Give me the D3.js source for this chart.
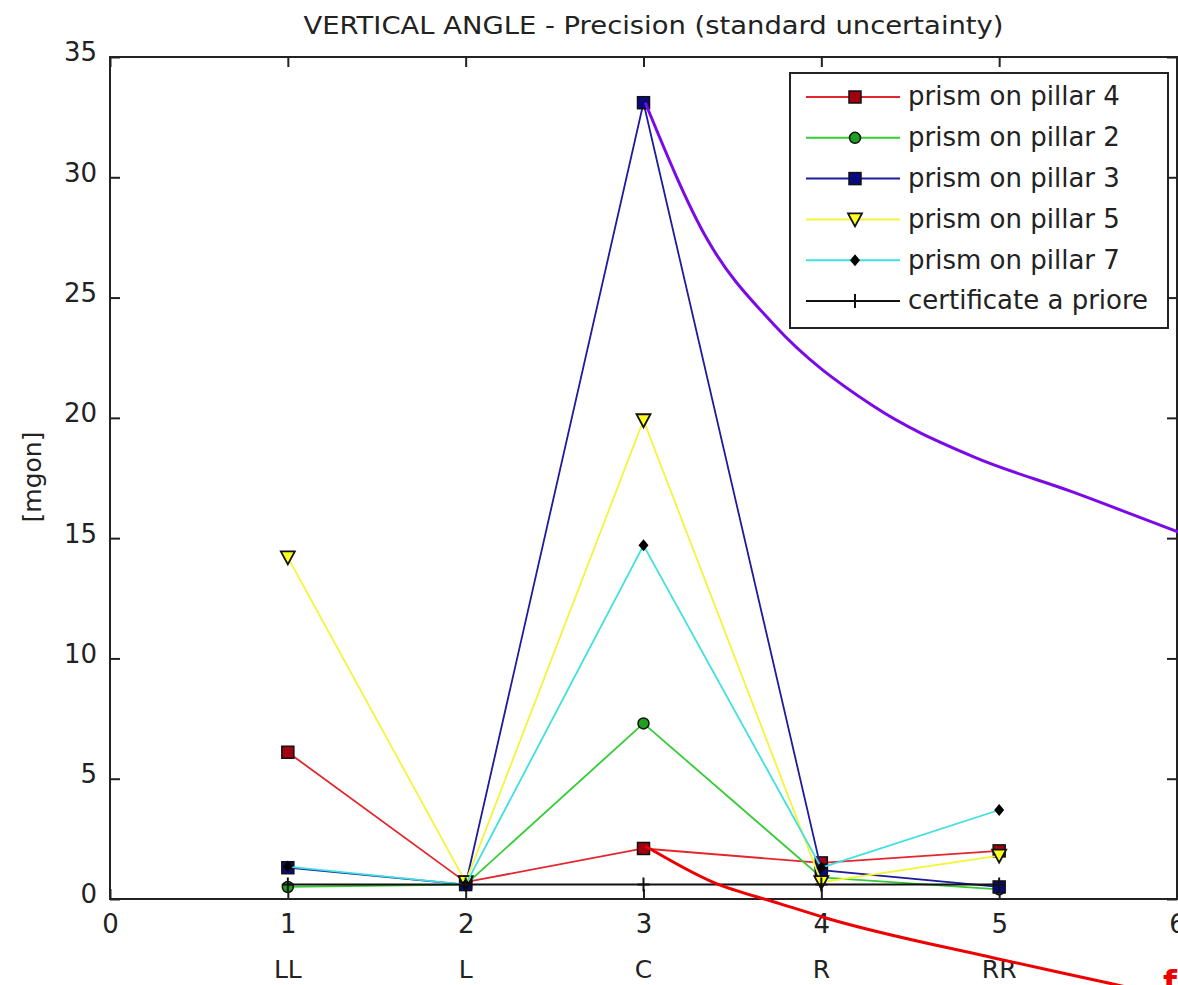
<!DOCTYPE html>
<html>
<head>
<meta charset="utf-8">
<script src="https://cdn.jsdelivr.net/npm/d3@7"></script>
<style>
  html, body { margin: 0; padding: 0; background: #fff; overflow: hidden; }
  svg { display: block; font-family: "DejaVu Sans", sans-serif; }
</style>
</head>
<body>
<div id="chart"></div>
<script>
// Category labels under the x ticks 1..5
const categories = ["LL", "L", "C", "R", "RR"];
const positions = [1, 2, 3, 4, 5];

// Series values [mgon]
const pillar4 = [6.1, 0.7, 2.1, 1.5, 2.0];
const pillar2 = [0.5, 0.6, 7.3, 0.9, 0.4];
const pillar3 = [1.3, 0.6, 33.1, 1.2, 0.5];
const pillar5 = [14.2, 0.7, 19.9, 0.7, 1.8];
const pillar7 = [1.35, 0.6, 14.7, 1.3, 3.7];
const certificate = [0.6, 0.6, 0.6, 0.6, 0.6];

const xTicks = [0, 1, 2, 3, 4, 5, 6];
const yTicks = [0, 5, 10, 15, 20, 25, 30, 35];

// Hand-drawn annotation curves (data coordinates)
const purpleNote = [[3.01, 33.1], [3.36, 27.4], [3.73, 23.9], [4.29, 20.5], [4.85, 18.4], [5.42, 16.9], [5.92, 15.5], [6.1, 15.0]];
const redNote = [[3.01, 2.2], [3.39, 0.7], [3.77, -0.2], [4.03, -0.8], [4.97, -2.45], [5.62, -3.5], [6.1, -4.3]];

const series = [
  { name: "prism on pillar 4", values: pillar4, line: "#e3262e", fill: "#a00010", marker: "square" },
  { name: "prism on pillar 2", values: pillar2, line: "#35cc35", fill: "#1f9f1f", marker: "circle" },
  { name: "prism on pillar 3", values: pillar3, line: "#1c1c9c", fill: "#0a0a80", marker: "square" },
  { name: "prism on pillar 5", values: pillar5, line: "#f4f43a", fill: "#ffff20", marker: "triangle" },
  { name: "prism on pillar 7", values: pillar7, line: "#3ee0e0", fill: "#000000", marker: "diamond" },
  { name: "certificate a priore", values: certificate, line: "#111111", fill: "none", marker: "plus" },
];

const W = 1178, H = 985;
const margin = { top: 57, right: 1, bottom: 86, left: 110 };

const svg = d3.select("#chart").append("svg")
  .attr("width", W)
  .attr("height", H);

const xScale = d3.scaleLinear().domain([0, 6]).range([margin.left, W - margin.right]);
const yScale = d3.scaleLinear().domain([0, 35]).range([H - margin.bottom, margin.top]);

const x0 = xScale(0), x1 = xScale(6), y0 = yScale(0), y1 = yScale(35);

// Title
svg.append("text")
  .attr("x", (x0 + x1) / 2 + 10)
  .attr("y", 34)
  .attr("text-anchor", "middle")
  .attr("textLength", 700)
  .attr("lengthAdjust", "spacingAndGlyphs")
  .style("font-size", "24px")
  .attr("fill", "#222")
  .text("VERTICAL ANGLE - Precision (standard uncertainty)");

// Y label
svg.append("text")
  .attr("transform", `translate(41,477) rotate(-90)`)
  .attr("text-anchor", "middle")
  .style("font-size", "25px")
  .attr("fill", "#222")
  .text("[mgon]");

// Axes box with inward ticks (bottom/left/top/right)
const tickLen = 10;
svg.append("g")
  .attr("transform", `translate(0,${y0})`)
  .call(d3.axisBottom(xScale).tickValues(xTicks).tickSize(-tickLen).tickPadding(16).tickFormat(d3.format("d")))
  .call(g => g.select(".domain").remove())
  .call(g => g.selectAll("text").style("font-size", "26px").attr("fill", "#222").attr("font-family", "DejaVu Sans"));

svg.append("g")
  .attr("transform", `translate(${x0},0)`)
  .call(d3.axisLeft(yScale).tickValues(yTicks).tickSize(-tickLen).tickPadding(13).tickFormat(d3.format("d")))
  .call(g => g.select(".domain").remove())
  .call(g => g.selectAll("text").style("font-size", "26px").attr("fill", "#222").attr("dy", "0.15em").attr("font-family", "DejaVu Sans"));

svg.append("g")
  .attr("transform", `translate(0,${y1})`)
  .call(d3.axisTop(xScale).tickValues(xTicks).tickSize(-tickLen).tickFormat(""))
  .call(g => g.select(".domain").remove());

svg.append("g")
  .attr("transform", `translate(${x1},0)`)
  .call(d3.axisRight(yScale).tickValues(yTicks).tickSize(-tickLen).tickFormat(""))
  .call(g => g.select(".domain").remove());

svg.selectAll(".tick line").attr("stroke", "#222").attr("stroke-width", 2);

svg.append("rect")
  .attr("x", x0).attr("y", y1)
  .attr("width", x1 - x0).attr("height", y0 - y1)
  .attr("fill", "none")
  .attr("stroke", "#222")
  .attr("stroke-width", 2);

// Category labels
svg.selectAll(".cat")
  .data(categories)
  .enter()
  .append("text")
  .attr("class", "cat")
  .attr("x", (d, i) => xScale(positions[i]))
  .attr("y", 978)
  .attr("text-anchor", "middle")
  .style("font-size", "25px")
  .attr("fill", "#222")
  .text(d => d);

// Marker drawing helper
function drawMarker(sel, s) {
  if (s.marker === "square") {
    sel.append("rect").attr("x", -6).attr("y", -6).attr("width", 12).attr("height", 12)
      .attr("fill", s.fill).attr("stroke", "#111").attr("stroke-width", 1.5);
  } else if (s.marker === "circle") {
    sel.append("circle").attr("r", 5.5)
      .attr("fill", s.fill).attr("stroke", "#111").attr("stroke-width", 1.5);
  } else if (s.marker === "triangle") {
    sel.append("path").attr("d", "M-7,-6L7,-6L0,7Z")
      .attr("fill", s.fill).attr("stroke", "#111").attr("stroke-width", 1.8);
  } else if (s.marker === "diamond") {
    sel.append("path").attr("d", "M0,-6L5,0L0,6L-5,0Z").attr("fill", "#000");
  } else if (s.marker === "plus") {
    sel.append("path").attr("d", "M-6,0H6M0,-7V7").attr("stroke", "#111").attr("stroke-width", 2);
  }
}

const line = d3.line()
  .x(d => xScale(d.x))
  .y(d => yScale(d.y));

// Series lines and markers
series.forEach(s => {
  const pts = s.values.map((v, i) => ({ x: positions[i], y: v }));
  svg.append("path")
    .datum(pts)
    .attr("d", line)
    .attr("fill", "none")
    .attr("stroke", s.line)
    .attr("stroke-width", s.marker === "plus" ? 2 : 1.8);
  svg.selectAll(null)
    .data(pts)
    .enter()
    .append("g")
    .attr("transform", d => `translate(${xScale(d.x)},${yScale(d.y)})`)
    .each(function () { drawMarker(d3.select(this), s); });
});

// Legend
const legend = svg.append("g");
legend.append("rect")
  .attr("x", 790).attr("y", 73).attr("width", 378).attr("height", 255)
  .attr("fill", "#fff").attr("stroke", "#222").attr("stroke-width", 2);

series.forEach((s, i) => {
  const ly = 97 + i * 40.8;
  legend.append("line")
    .attr("x1", 806).attr("x2", 900).attr("y1", ly).attr("y2", ly)
    .attr("stroke", s.line).attr("stroke-width", 2);
  legend.append("g")
    .attr("transform", `translate(855,${ly})`)
    .each(function () { drawMarker(d3.select(this), s); });
  legend.append("text")
    .attr("x", 908).attr("y", ly).attr("dy", "0.32em")
    .style("font-size", "26px")
    .attr("fill", "#222")
    .text(s.name);
});

// Annotation curves
const noteLine = d3.line()
  .x(d => xScale(d[0]))
  .y(d => yScale(d[1]))
  .curve(d3.curveMonotoneX);

svg.append("path")
  .datum(purpleNote)
  .attr("d", noteLine)
  .attr("fill", "none")
  .attr("stroke", "#7a0ae8")
  .attr("stroke-width", 3);

svg.append("path")
  .datum(redNote)
  .attr("d", noteLine)
  .attr("fill", "none")
  .attr("stroke", "#ee0000")
  .attr("stroke-width", 3);

svg.append("text")
  .attr("x", 1163).attr("y", 993)
  .style("font-size", "32px")
  .style("font-weight", "bold")
  .attr("fill", "#ee0000")
  .text("f");
</script>
</body>
</html>
